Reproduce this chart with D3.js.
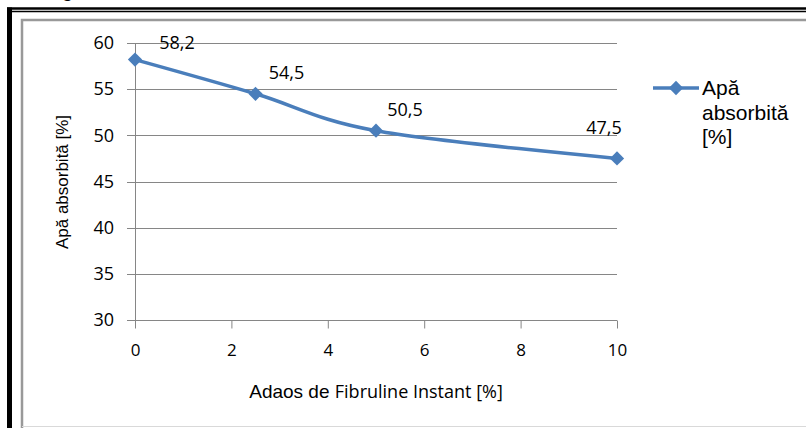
<!DOCTYPE html>
<html>
<head>
<meta charset="utf-8">
<script src="https://cdn.jsdelivr.net/npm/d3@7"></script>
<style>
  body { margin: 0; background: white; }
  svg { display: block; }
</style>
</head>
<body>
<div id="container"></div>
<script>
/* CONSTANTS AND GLOBALS */
const width = 806,
  height = 428;

// data
const adaos = [0, 2.5, 5, 10];
const apaAbsorbita = [58.2, 54.5, 50.5, 47.5];
const valueLabels = ["58,2", "54,5", "50,5", "47,5"];
const xTicks = [0, 2, 4, 6, 8, 10];
const yTicks = [30, 35, 40, 45, 50, 55, 60];
const seriesName = ["Apă", "absorbită", "[%]"];

// label nudges (px) relative to each point
const labelNudge = [[42, -17], [31, -21], [29, -21], [-13, -31]];

const data = adaos.map((x, i) => ({ x, y: apaAbsorbita[i], label: valueLabels[i] }));

const blue = "#4a7ebb",
  grid = "#868686";

// SVG
const svg = d3.select("#container")
  .append("svg")
  .attr("width", width)
  .attr("height", height)
  .style("background-color", "white");

// cropped title descender + frames
svg.append("text")
  .attr("x", 62).attr("y", -3)
  .attr("font-family", "Liberation Sans, Arial")
  .attr("font-size", 18).attr("font-weight", "bold")
  .text("g");

svg.append("line").attr("x1", 7).attr("x2", width).attr("y1", 8.5).attr("y2", 8.5)
  .attr("stroke", "black").attr("stroke-width", 2.5);
svg.append("line").attr("x1", 9).attr("x2", width).attr("y1", 11.5).attr("y2", 11.5)
  .attr("stroke", "black").attr("stroke-width", 1.5);
svg.append("line").attr("x1", 9.5).attr("x2", 9.5).attr("y1", 7.5).attr("y2", height)
  .attr("stroke", "black").attr("stroke-width", 5);
svg.append("path")
  .attr("d", `M22,${height} V20 H${width}`)
  .attr("fill", "none").attr("stroke", "#999").attr("stroke-width", 2.5);
svg.append("line").attr("x1", 22).attr("x2", width).attr("y1", 426.5).attr("y2", 426.5)
  .attr("stroke", "#d9d9d9").attr("stroke-width", 1);

// SCALES
const xScale = d3.scaleLinear().domain([0, 10]).range([135, 617]);
const yScale = d3.scaleLinear().domain([30, 60]).range([320, 43]);

// GRIDLINES
svg.append("g")
  .selectAll("line")
  .data(yTicks)
  .join("line")
  .attr("x1", xScale(0) - 8)
  .attr("x2", xScale(10))
  .attr("y1", d => Math.round(yScale(d)) + 0.5)
  .attr("y2", d => Math.round(yScale(d)) + 0.5)
  .attr("stroke", grid);

// AXES
const yAxis = d3.axisLeft(yScale).tickValues(yTicks).tickSize(0).tickPadding(21);
svg.append("g")
  .attr("transform", `translate(${xScale(0)}, 0)`)
  .call(yAxis)
  .call(g => g.select(".domain").remove())
  .selectAll("text")
  .attr("font-family", "Open Sans")
  .attr("font-size", 18)
  .attr("fill", "black");

svg.append("line")
  .attr("x1", xScale(0) + 0.5).attr("x2", xScale(0) + 0.5)
  .attr("y1", yScale(60)).attr("y2", yScale(30) + 8)
  .attr("stroke", grid);

const xAxis = d3.axisBottom(xScale).tickValues(xTicks).tickSize(8).tickPadding(15);
svg.append("g")
  .attr("transform", `translate(0, ${Math.round(yScale(30)) + 0.5})`)
  .call(xAxis)
  .call(g => g.select(".domain").remove())
  .call(g => g.selectAll("line").attr("stroke", grid))
  .selectAll("text")
  .attr("font-family", "Open Sans")
  .attr("font-size", 17)
  .attr("fill", "black");

// AXIS TITLES
svg.append("text")
  .attr("transform", `translate(68, 182) rotate(-90)`)
  .attr("text-anchor", "middle")
  .attr("font-family", "Liberation Sans, Arial")
  .attr("font-size", 17)
  .text("Apă absorbită [%]");

const xTitle = svg.append("text")
  .attr("x", 376).attr("y", 398)
  .attr("text-anchor", "middle");
xTitle.append("tspan").attr("font-family", "Liberation Sans, Arial").attr("font-size", 19).text("Adaos de ");
xTitle.append("tspan").attr("font-family", "Open Sans").attr("font-size", 18).text("Fibruline Instant [%]");

// LINE
const drawLine = d3.line()
  .x(d => xScale(d.x))
  .y(d => yScale(d.y))
  .curve(d3.curveCatmullRom.alpha(0));

svg.append("path")
  .datum(data)
  .attr("d", drawLine)
  .attr("fill", "none")
  .attr("stroke", blue)
  .attr("stroke-width", 3.5)
  .attr("stroke-linejoin", "round");

const diamond = d3.symbol().type(d3.symbolDiamond2).size(130);

svg.selectAll(".marker")
  .data(data)
  .join("path")
  .attr("class", "marker")
  .attr("transform", d => `translate(${xScale(d.x)}, ${yScale(d.y)})`)
  .attr("d", diamond)
  .attr("fill", blue);

// DATA LABELS
svg.selectAll(".value-label")
  .data(data)
  .join("text")
  .attr("class", "value-label")
  .attr("x", (d, i) => xScale(d.x) + labelNudge[i][0])
  .attr("y", (d, i) => yScale(d.y) + labelNudge[i][1])
  .attr("dy", "0.35em")
  .attr("text-anchor", "middle")
  .attr("font-family", "Open Sans")
  .attr("font-size", 18)
  .text(d => d.label);

// LEGEND
const legend = svg.append("g").attr("transform", "translate(653, 88)");
legend.append("line")
  .attr("x1", 0).attr("x2", 46)
  .attr("stroke", blue).attr("stroke-width", 3.5);
legend.append("path")
  .attr("transform", "translate(23, 0)")
  .attr("d", diamond)
  .attr("fill", blue);
legend.append("text")
  .attr("font-family", "Liberation Sans, Arial")
  .attr("font-size", 21)
  .selectAll("tspan")
  .data(seriesName)
  .join("tspan")
  .attr("x", 49)
  .attr("y", (d, i) => 7 + i * 24.5)
  .text(d => d);
</script>
</body>
</html>
